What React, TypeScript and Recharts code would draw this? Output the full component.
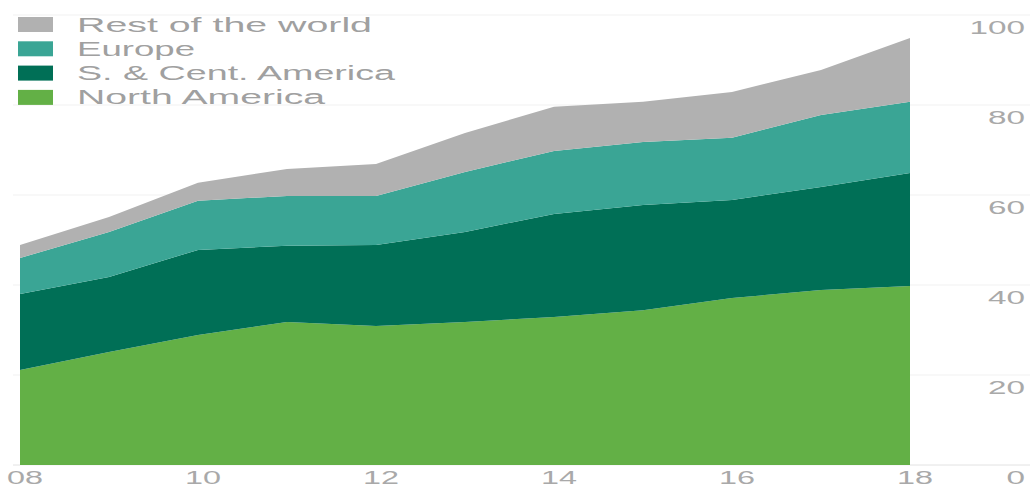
import React from "react";
import { AreaChart, Area, XAxis, YAxis, CartesianGrid } from "recharts";

// Oil consumption share by region, 2008–2018 (stacked)
const years = [2008, 2009, 2010, 2011, 2012, 2013, 2014, 2015, 2016, 2017, 2018];
const northAmerica = [21.1, 25.1, 28.9, 31.8, 30.9, 31.8, 32.9, 34.4, 37.1, 38.9, 39.8];
const southCentAmerica = [16.9, 16.7, 18.9, 16.9, 18.0, 20.0, 22.9, 23.4, 21.8, 22.9, 25.1];
const europe = [8.0, 10.0, 10.9, 11.1, 10.9, 13.3, 14.0, 14.0, 13.8, 16.0, 15.8];
const restOfWorld = [2.9, 3.3, 4.0, 6.0, 7.1, 8.7, 9.8, 8.9, 10.2, 10.0, 14.2];

const xTicks = [2008, 2010, 2012, 2014, 2016, 2018];
const yTicks = [0, 20, 40, 60, 80, 100];

const series = [
  { key: "na", name: "North America", color: "#63b046", values: northAmerica, labelWidth: 248 },
  { key: "sca", name: "S. & Cent. America", color: "#006f56", values: southCentAmerica, labelWidth: 318 },
  { key: "eu", name: "Europe", color: "#3aa595", values: europe, labelWidth: 118 },
  { key: "row", name: "Rest of the world", color: "#b1b1b1", values: restOfWorld, labelWidth: 295 },
];

const data = years.map((year, i) => {
  const row: Record<string, number> = { year };
  series.forEach((s) => {
    row[s.key] = s.values[i];
  });
  return row;
});

const W = 1030;
const H = 488;
const MARGIN = { top: 15, right: 0, bottom: 0, left: 20 };
const Y_AXIS_WIDTH = 120;
const PLOT_RIGHT = W - MARGIN.right - Y_AXIS_WIDTH;
const FONT = "'Liberation Sans', Arial, sans-serif";
const TEXT = "#a9a9a9";
const LEGEND_TEXT = "#a0a0a0";
const GRID = "#f1f1f1";

const XTick = (props: any) => {
  const { x, y, payload } = props;
  const label = String(payload.value % 100).padStart(2, "0");
  return (
    <text
      x={x + 5}
      y={y + 11}
      textAnchor="middle"
      fontFamily={FONT}
      fontSize={18}
      fill={TEXT}
      textLength={36}
      lengthAdjust="spacingAndGlyphs"
    >
      {label}
    </text>
  );
};

// Right-hand value labels, with the gridline carried on past the plot edge
const YTick = (props: any) => {
  const { y, payload } = props;
  const label = String(payload.value);
  const stroke = payload.value === 0 ? "#e2e2e2" : GRID;
  return (
    <g>
      <line x1={PLOT_RIGHT} x2={W} y1={y} y2={y} stroke={stroke} strokeWidth={1} />
      <line x1={13} x2={MARGIN.left} y1={y} y2={y} stroke={stroke} strokeWidth={1} />
      <text
        x={W - 5}
        y={y + 19}
        textAnchor="end"
        fontFamily={FONT}
        fontSize={18}
        fill={TEXT}
        textLength={label.length * 18.5}
        lengthAdjust="spacingAndGlyphs"
      >
        {label}
      </text>
    </g>
  );
};

const LegendBox = () => {
  const rows = [...series].reverse();
  return (
    <svg width={420} height={112} style={{ position: "absolute", left: 0, top: 0 }}>
      {rows.map((s, i) => (
        <g key={s.key}>
          <rect x={18} y={17 + i * 24.3} width={35} height={15} fill={s.color} />
          <text
            x={77}
            y={32 + i * 24}
            fontFamily={FONT}
            fontSize={20}
            fill={LEGEND_TEXT}
            textLength={s.labelWidth}
            lengthAdjust="spacingAndGlyphs"
          >
            {s.name}
          </text>
        </g>
      ))}
    </svg>
  );
};

export default function App() {
  return (
    <div style={{ position: "fixed", left: 0, top: 0, width: W, height: H, background: "#fff" }}>
      <AreaChart width={W} height={H} data={data} margin={MARGIN}>
        <CartesianGrid horizontal vertical={false} stroke={GRID} />
        <YAxis
          orientation="right"
          domain={[0, 100]}
          ticks={yTicks}
          width={Y_AXIS_WIDTH}
          axisLine={false}
          tickLine={false}
          tick={<YTick />}
          interval={0}
        />
        <XAxis
          dataKey="year"
          type="number"
          domain={[2008, 2018]}
          ticks={xTicks}
          height={23}
          axisLine={false}
          tickLine={false}
          tick={<XTick />}
          interval={0}
        />
        {series.map((s) => (
          <Area
            key={s.key}
            type="linear"
            dataKey={s.key}
            name={s.name}
            stackId="1"
            stroke="none"
            fill={s.color}
            fillOpacity={1}
            isAnimationActive={false}
          />
        ))}
      </AreaChart>
      <LegendBox />
    </div>
  );
}
